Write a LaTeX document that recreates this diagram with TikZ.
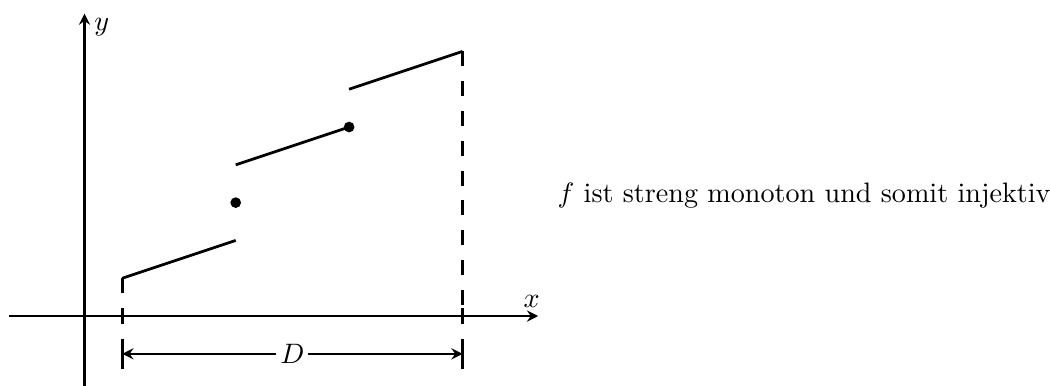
\documentclass[tikz,border=0pt]{standalone}
\usepackage{amsmath,amssymb}
\usetikzlibrary{arrows.meta}

\begin{document}
\begin{tikzpicture}[x=0.4725cm, y=0.4725cm,
    tip/.style={-{Stealth[length=4pt, width=4pt, inset=1.4pt]}},
    ax/.style={tip, line width=0.8pt},
    fn/.style={line width=1pt},
    guide/.style={line width=1pt, dash pattern=on 5.3pt off 5.3pt},
    tick/.style={line width=0.9pt},
    dim/.style={tip, line width=0.6pt},
    dot/.style={circle, fill=black, inner sep=0pt, minimum size=3.8pt},
    lbl/.style={inner sep=1.2pt}]
    \useasboundingbox (-2.235,-1.825) rectangle (25.54,8.36);
    % axes
    \coordinate (xl) at (-2,0);  \coordinate (xr) at (12,0);
    \coordinate (yb) at (0,-1.9); \coordinate (yt) at (0,8);
    \draw[ax] (xl) -- (xr); \draw[ax] (yb) -- (yt);
    \node (xlab) at (11.83,0.38) {$x$};
    \node[anchor=west] (ylab) at (0,7.64) {$y$};
    % graph pieces
    \coordinate (a1) at (1,1); \coordinate (a2) at (4,2);
    \coordinate (b1) at (4,4); \coordinate (b2) at (7,5);
    \coordinate (c1) at (7,6); \coordinate (c2) at (10,7);
    \draw[fn] (a1) -- (a2); \draw[fn] (b1) -- (b2); \draw[fn] (c1) -- (c2);
    \node[dot] (p1) at (4,3) {};
    \node[dot] (p2) at (7,5) {};
    % domain
    \coordinate (d1) at (1,0); \coordinate (d2) at (10,0);
    \draw[guide] (a1) -- (d1); \draw[guide] (c2) -- (d2);
    \foreach \t in {1,10} {
      \draw[tick] (\t,0.2) -- (\t,-0.2);
      \draw[tick] (\t,-0.6) -- (\t,-1.4);
    }
    \node[lbl] (D) at (5.5,-1) {$D$};
    \coordinate (m1) at (1,-1); \coordinate (m2) at (10,-1);
    \draw[dim] (D) -- (m1); \draw[dim] (D) -- (m2);
    \node[anchor=base west] (txt) at (12.25,3) {$f$ ist streng monoton und somit injektiv};
\end{tikzpicture}
\end{document}
